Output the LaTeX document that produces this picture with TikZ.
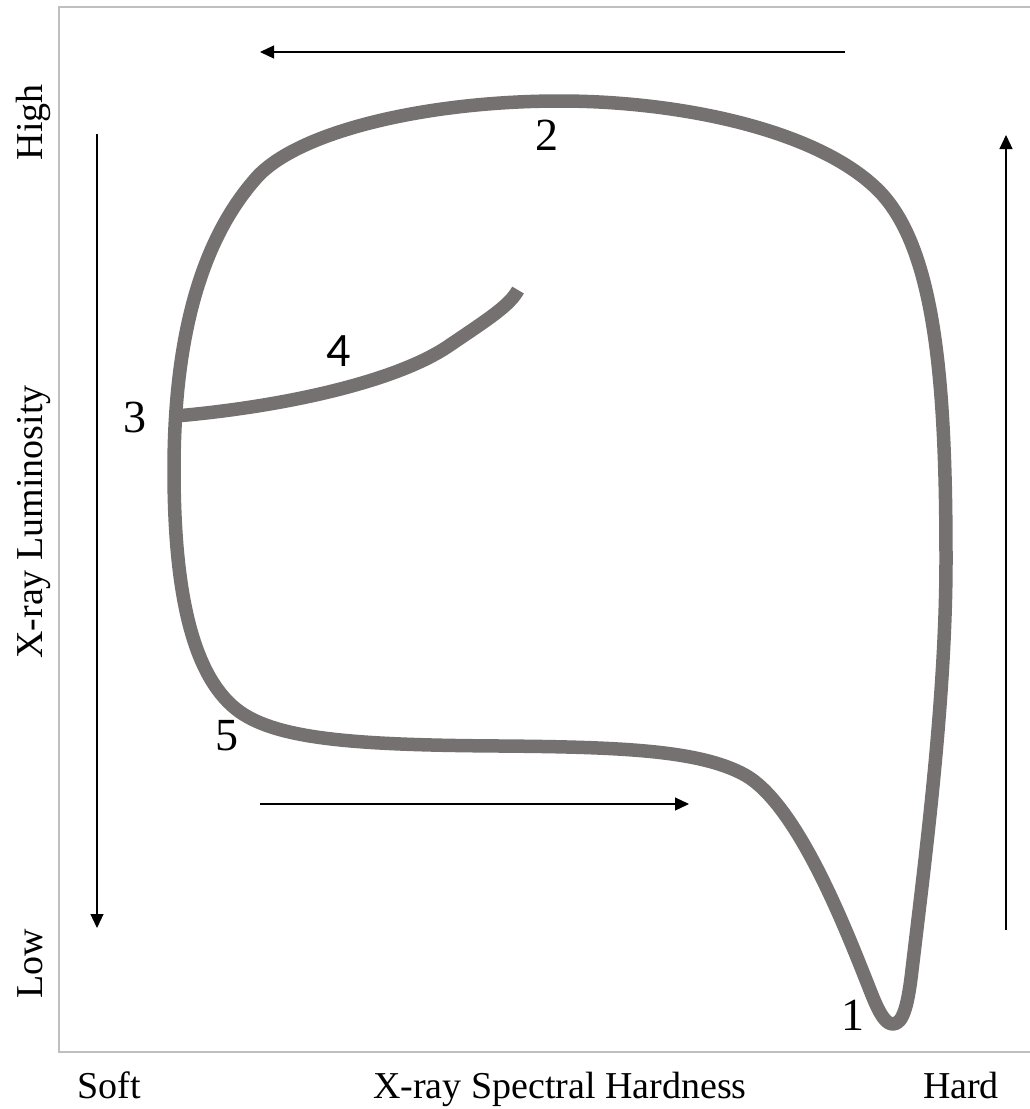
\documentclass[tikz,border=0pt]{standalone}
\usepackage{fontspec}
\setmainfont{Liberation Serif}
\newfontfamily\numsans{Carlito}
\usetikzlibrary{arrows.meta}
\definecolor{curvegray}{HTML}{767171}
\definecolor{framegray}{HTML}{BFBFBF}
\begin{document}
\begin{tikzpicture}[x=1pt,y=-1pt,
  track/.style={draw=curvegray,line width=13.5pt,line join=round},
  flowarrow/.style={draw=black,line width=1.2pt,-{Triangle[length=14pt,width=13pt]}},
  axislabel/.style={font=\fontsize{38}{40}\selectfont,inner sep=0pt,anchor=base},
  stagelabel/.style={font=\fontsize{46}{48}\selectfont,inner sep=0pt,anchor=base}]
\useasboundingbox (0,0) rectangle (1030,1109);
\clip (0,0) rectangle (1030,1109);
\fill[white] (0,0) rectangle (1030,1109);
% frame
\draw[framegray,line width=2pt] (59,7) rectangle (1040,1052);
% main loop
\draw[track] (893,1024)
  .. controls (903,1024) and (908,1005) .. (912,970)
  .. controls (925,860) and (946,700) .. (946,560)
  .. controls (946,380) and (935,250) .. (880,192)
  .. controls (820,130) and (680,101) .. (560,101)
  .. controls (430,101) and (302,130) .. (258,176)
  .. controls (200,240) and (174,340) .. (174,470)
  .. controls (174,600) and (195,680) .. (240,712)
  .. controls (280,740) and (360,745) .. (500,746)
  .. controls (620,747) and (700,750) .. (745,775)
  .. controls (800,806) and (850,940) .. (872,995)
  .. controls (880,1015) and (886,1024) .. (893,1024) -- cycle;
% branch
\draw[track,line cap=butt] (176,416)
  .. controls (290,406) and (400,380) .. (450,345)
  .. controls (490,318) and (510,305) .. (518,290);
% arrows
\coordinate (ta) at (845,52); \coordinate (tb) at (260,52);
\coordinate (la) at (97,134); \coordinate (lb) at (97,928);
\coordinate (ra) at (1006,930); \coordinate (rb) at (1006,135);
\coordinate (ba) at (260,804); \coordinate (bb) at (689,804);
\draw[flowarrow] (ta) -- (tb);
\draw[flowarrow] (la) -- (lb);
\draw[flowarrow] (ra) -- (rb);
\draw[flowarrow] (ba) -- (bb);
% axis labels
\node[axislabel] (soft) at (109,1098) {Soft};
\node[axislabel] (hard) at (961,1098) {Hard};
\node[axislabel] (xhard) at (560,1098) {X-ray Spectral Hardness};
\node[axislabel,rotate=90] (high) at (42,122) {High};
\node[axislabel,rotate=90] (low) at (42,964) {Low};
\node[axislabel,rotate=90] (xlum) at (42,522) {X-ray Luminosity};
% stage labels
\node[stagelabel] (s1) at (853,1030) {1};
\node[stagelabel] (s2) at (547,150) {2};
\node[stagelabel] (s3) at (135,432) {3};
\node[stagelabel,font=\numsans\fontsize{48}{50}\selectfont] (s4) at (339,366) {4};
\node[stagelabel] (s5) at (227,750) {5};
\end{tikzpicture}
\end{document}
